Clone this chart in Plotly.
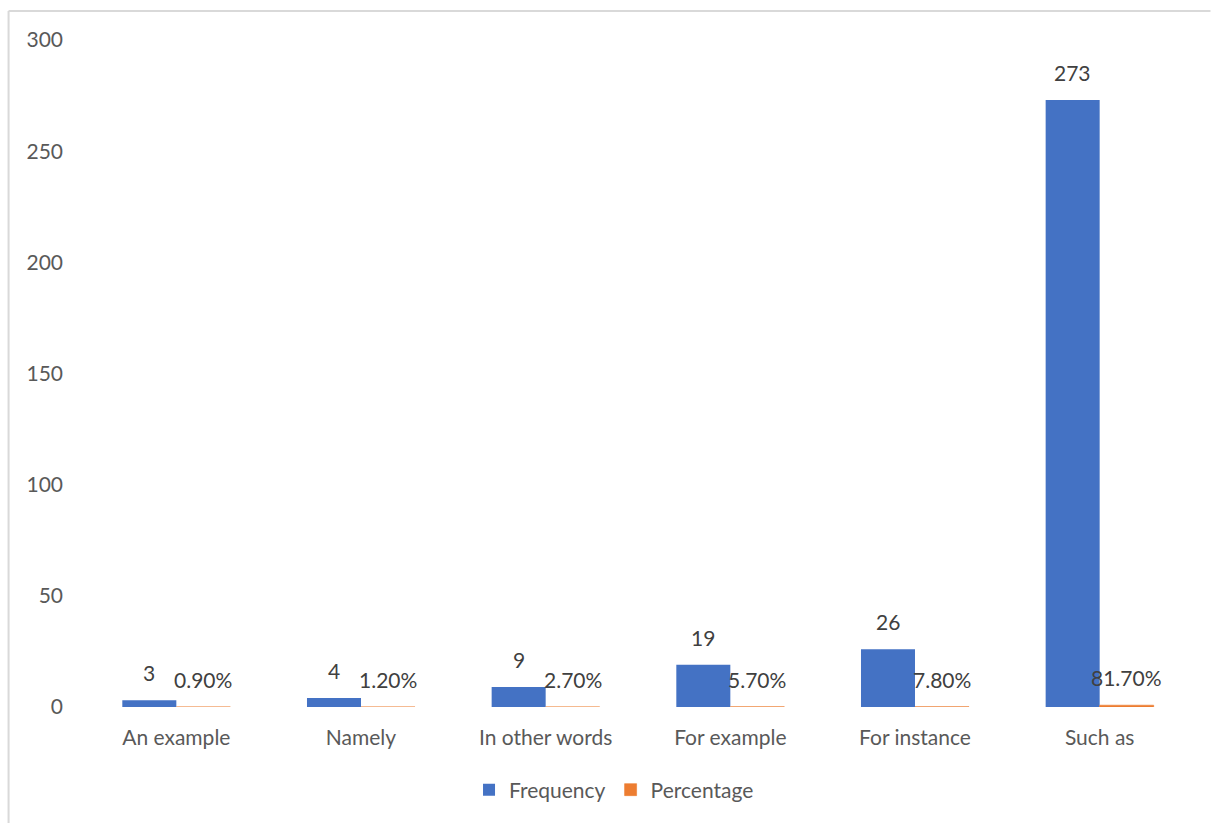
import plotly.graph_objects as go

# Frequency and share of exemplification markers
categories = ["An example", "Namely", "In other words", "For example", "For instance", "Such as"]
frequency = [3, 4, 9, 19, 26, 273]
percentage = [0.009, 0.012, 0.027, 0.057, 0.078, 0.817]
y_ticks = [0, 50, 100, 150, 200, 250, 300]

BLUE = "#4472C4"
ORANGE = "#ED7D31"
FONT = "Lato, 'Open Sans', sans-serif"

W, H = 1211, 823
L, R, T, B = 83.5, 18.5, 40, 116
plot_w = W - L - R
plot_h = H - T - B

fig = go.Figure()
fig.add_trace(go.Bar(name="Frequency", x=categories, y=frequency, marker_color=BLUE,
                     marker_line_width=0))
fig.add_trace(go.Bar(name="Percentage", x=categories, y=percentage, marker_color=ORANGE,
                     marker_line=dict(color=ORANGE, width=0.6)))

bargap = 0.415
bar_px = plot_w / len(categories) * (1 - bargap) / 2

# Data labels above each bar
annotations = []
for c, f, p in zip(categories, frequency, percentage):
    annotations.append(dict(x=c, y=f, xref="x", yref="y", text=str(f), showarrow=False,
                            xshift=-bar_px / 2, yshift=13, yanchor="bottom",
                            font=dict(family=FONT, size=21, color="#404040")))
    annotations.append(dict(x=c, y=p, xref="x", yref="y", text=f"{p * 100:.2f}%", showarrow=False,
                            xshift=bar_px / 2, yshift=13, yanchor="bottom",
                            font=dict(family=FONT, size=21, color="#404040")))

def px_x(px):
    return (px - L) / plot_w

def px_y(py):
    return (H - B - py) / plot_h

# Chart-area frame (left and top edges)
border = "#D9D9D9"
shapes = [
    dict(type="line", xref="paper", yref="paper", x0=px_x(8), x1=px_x(8), y0=px_y(823), y1=px_y(11),
         line=dict(color=border, width=2)),
    dict(type="line", xref="paper", yref="paper", x0=px_x(8), x1=px_x(1211), y0=px_y(11), y1=px_y(11),
         line=dict(color=border, width=2)),
]

fig.update_layout(
    width=W, height=H,
    margin=dict(l=L, r=R, t=T, b=B, pad=0),
    paper_bgcolor="white", plot_bgcolor="white",
    barmode="group", bargap=bargap, bargroupgap=0,
    font=dict(family=FONT, size=21, color="#595959"),
    showlegend=True,
    legend=dict(orientation="h", x=px_x(614), xanchor="center", y=px_y(790), yanchor="middle",
                font=dict(family=FONT, size=21, color="#595959"), itemwidth=30,
                bgcolor="rgba(0,0,0,0)"),
    annotations=annotations,
    shapes=shapes,
)
fig.update_xaxes(showgrid=False, showline=False, zeroline=False, ticks="",
                 tickfont=dict(family=FONT, size=21, color="#595959"), ticklabelstandoff=16)
fig.update_yaxes(range=[0, 300], tickvals=y_ticks, showgrid=False, showline=False, zeroline=False,
                 ticks="", tickfont=dict(family=FONT, size=21, color="#595959"), ticklabelstandoff=20)

fig.write_html("out.html")
